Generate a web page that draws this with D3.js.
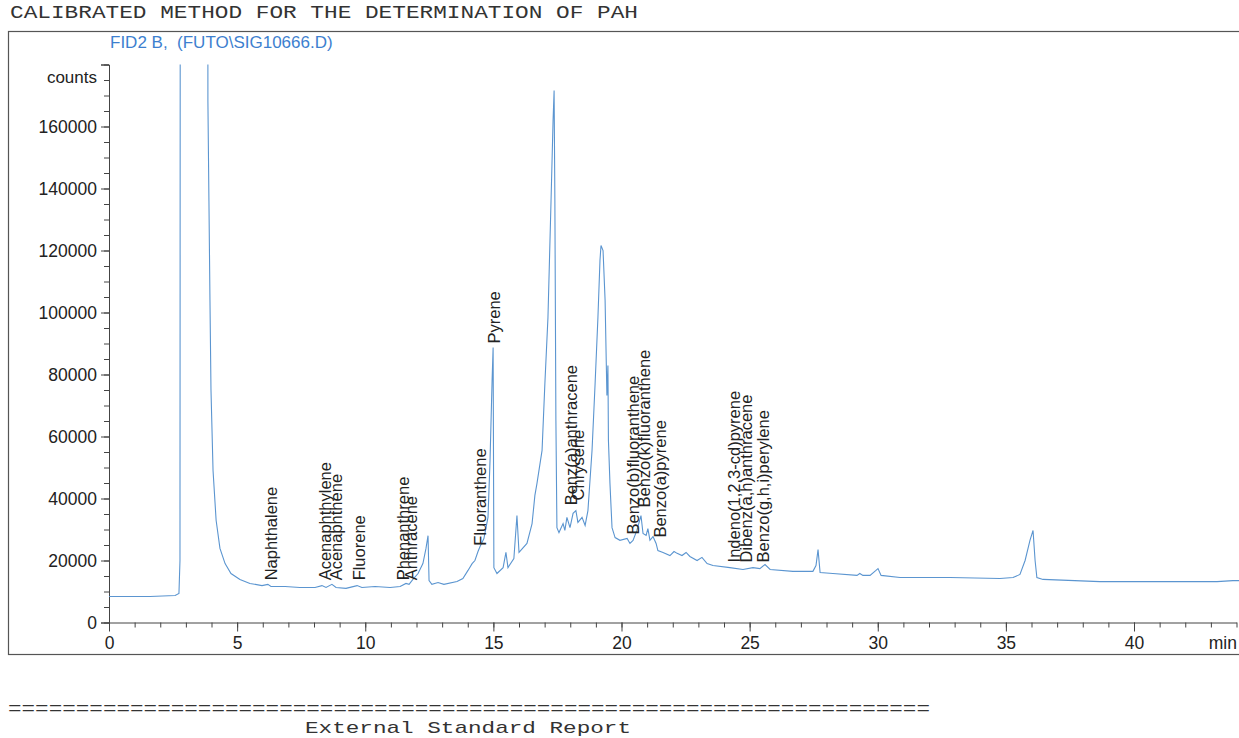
<!DOCTYPE html>
<html>
<head>
<meta charset="utf-8">
<script src="https://cdn.jsdelivr.net/npm/d3@7"></script>
<style>
  body { margin: 0; background: #fff; }
  svg { display: block; }
</style>
</head>
<body>
<div id="chart"></div>
<script>
// chromatogram trace (min, counts); off-scale parts set high and clipped
const times = [0, 1.6, 2.58, 2.73, 2.77, 2.79, 3.84, 3.86, 3.9, 3.94, 3.98, 4.06, 4.18, 4.33, 4.53, 4.76, 5.11, 5.5,
  5.97, 6.2, 6.32, 6.87, 7.45, 8.04, 8.31, 8.47, 8.7, 8.86, 9.25, 9.68, 9.87, 10.38, 10.97, 11.36, 11.59, 11.71,
  11.86, 12.06, 12.25, 12.37, 12.45, 12.49, 12.6, 12.84, 13.07, 13.58, 13.81, 14.01, 14.17, 14.28, 14.4, 14.48,
  14.63, 14.79, 14.87, 14.95, 14.99, 15.02, 15.14, 15.38, 15.49, 15.57, 15.8, 15.92, 16.0, 16.31, 16.51, 16.62,
  16.7, 16.9, 17.01, 17.13, 17.25, 17.33, 17.37, 17.4, 17.44, 17.48, 17.56, 17.72, 17.79, 17.87, 17.99, 18.11,
  18.22, 18.3, 18.46, 18.58, 18.69, 18.85, 18.97, 19.08, 19.16, 19.2, 19.28, 19.36, 19.43, 19.47, 19.49, 19.55,
  19.63, 19.75, 19.94, 20.22, 20.33, 20.45, 20.6, 20.76, 20.84, 20.96, 21.03, 21.11, 21.23, 21.35, 21.42, 21.62,
  21.89, 22.05, 22.17, 22.36, 22.52, 22.67, 22.95, 23.14, 23.34, 23.57, 24.23, 24.74, 25.13, 25.4, 25.6, 25.8,
  26.69, 27.47, 27.59, 27.67, 27.75, 28.25, 29.19, 29.3, 29.42, 29.7, 29.93, 30.01, 30.13, 30.87, 32.82, 34.77,
  35.28, 35.55, 35.75, 35.94, 36.06, 36.14, 36.21, 36.45, 38.67, 41.29, 43.24, 43.86, 44.14];
const counts = [8400, 8400, 8700, 9400, 20000, 400000, 400000, 168000, 136000, 104000, 75000, 49000, 33000, 23900,
  19000, 15800, 13900, 12600, 11900, 12300, 11600, 11600, 11300, 11300, 11900, 11300, 12300, 11300, 11000, 11900,
  11300, 11600, 11300, 11600, 12600, 12300, 13900, 15800, 19000, 23900, 28000, 13500, 12300, 12900, 12300, 13200,
  14200, 16800, 19000, 20000, 22900, 24500, 27100, 33900, 52300, 78100, 88700, 17700, 15800, 17700, 22600, 17700,
  20600, 34500, 22600, 25500, 31900, 41000, 44800, 55500, 77100, 98400, 136000, 162000, 171600, 136000, 65200,
  30600, 29000, 31900, 29700, 33900, 30600, 35200, 36100, 32300, 33900, 31300, 36100, 55500, 77100, 98400, 116800,
  121600, 120000, 103900, 73200, 82900, 58700, 44800, 30600, 27400, 26500, 27100, 25500, 26500, 29700, 34500,
  28700, 28100, 30300, 26500, 27700, 25500, 23200, 22600, 21600, 22900, 22300, 21600, 22600, 21300, 20000, 21000,
  19000, 18400, 17700, 17100, 17700, 17400, 18700, 17100, 16500, 16500, 18400, 23500, 16100, 15800, 15200, 15800,
  15200, 15200, 16800, 17400, 15200, 14500, 14500, 14200, 14500, 15500, 20000, 26500, 29700, 20000, 14500, 13900,
  13200, 13200, 13200, 13500, 13500];

// peak annotations
const peakNames = ["Naphthalene", "Acenaphthylene", "Acenaphthene", "Fluorene", "Phenanthrene", "Anthracene",
  "Fluoranthene", "Pyrene", "Benz(a)anthracene", "Chrysene", "Benzo(b)fluoranthene", "Benzo(k)fluoranthene",
  "Benzo(a)pyrene", "Indeno(1,2,3-cd)pyrene", "Dibenz(a,h)anthracene", "Benzo(g,h,i)perylene"];
const peakTimes = [6.33, 8.42, 8.85, 9.75, 11.5, 11.78, 14.47, 15.03, 18.04, 18.3, 20.45, 20.9, 21.5, 24.38, 24.85, 25.52];
const peakHeights = [12300, 12300, 12300, 12300, 12300, 12300, 23500, 88700, 36500, 38100, 27100, 35800, 26100, 18100, 18100, 18100];

const xMajorTicks = [0, 5, 10, 15, 20, 25, 30, 35, 40];
const yMajorTicks = [0, 20000, 40000, 60000, 80000, 100000, 120000, 140000, 160000];

const W = 1239, H = 738;
const sans = "'Liberation Sans', Arial, sans-serif";
const mono = "'Liberation Mono', 'Courier New', monospace";
const svg = d3.select("#chart").append("svg").attr("width", W).attr("height", H)
  .style("font-family", sans);

const x = d3.scaleLinear().domain([0, 44]).range([109, 1236.5]);
const y = d3.scaleLinear().domain([0, 180000]).range([622.5, 64.5]);

// header / frame
svg.append("text").attr("x", 10).attr("y", 18)
  .attr("font-family", mono).attr("font-size", 18)
  .attr("textLength", 628).attr("lengthAdjust", "spacingAndGlyphs").attr("fill", "#333")
  .text("CALIBRATED METHOD FOR THE DETERMINATION OF PAH");

svg.append("rect").attr("x", 8.5).attr("y", 31.5).attr("width", 1240).attr("height", 623)
  .attr("fill", "none").attr("stroke", "#555").attr("stroke-width", 1.2);

svg.append("text").attr("x", 110).attr("y", 48).attr("font-size", 17).attr("fill", "#3d7fcf")
  .style("white-space", "pre")
  .text("FID2 B,  (FUTO\\SIG10666.D)");

// y axis
svg.append("g").attr("transform", "translate(109,0)")
  .call(d3.axisLeft(y).tickValues(d3.range(0, 180001, 5000)).tickSize(5).tickFormat(""))
  .call(g => g.select(".domain").remove())
  .attr("color", "#444");
svg.append("g").attr("transform", "translate(109,0)")
  .call(d3.axisLeft(y).tickValues(yMajorTicks.concat([180000])).tickSize(8).tickPadding(4)
    .tickFormat(d => d === 180000 ? "" : d))
  .attr("font-size", 17.5).attr("font-family", sans)
  .attr("color", "#444")
  .call(g => g.selectAll("text").attr("fill", "#222"));
svg.append("text").attr("x", 97).attr("y", y(176000) + 6).attr("text-anchor", "end")
  .attr("font-size", 17).attr("fill", "#222").text("counts");

// x axis
svg.append("g").attr("transform", `translate(0,${y(0)})`)
  .call(d3.axisBottom(x).tickValues(d3.range(0, 45, 1)).tickSize(5).tickFormat(""))
  .call(g => g.select(".domain").remove())
  .attr("color", "#444");
svg.append("g").attr("transform", `translate(0,${y(0)})`)
  .call(d3.axisBottom(x).tickValues(xMajorTicks).tickSize(9).tickPadding(5).tickSizeOuter(0))
  .attr("font-size", 17.5).attr("font-family", sans)
  .attr("color", "#444")
  .call(g => g.selectAll("text").attr("fill", "#222"));
svg.append("text").attr("x", 1237).attr("y", y(0) + 26).attr("text-anchor", "end")
  .attr("font-size", 17.5).attr("fill", "#222").text("min");

// trace
svg.append("defs").append("clipPath").attr("id", "plot")
  .append("rect").attr("x", 109).attr("y", y(180000)).attr("width", 1130).attr("height", y(0) - y(180000));

const data = times.map((t, i) => [t, counts[i]]);
svg.append("path").datum(data)
  .attr("clip-path", "url(#plot)")
  .attr("fill", "none").attr("stroke", "#5b95d0").attr("stroke-width", 1.1)
  .attr("d", d3.line().x(d => x(d[0])).y(d => y(d[1])));

// peak labels
svg.append("g").selectAll("text").data(peakNames).join("text")
  .attr("transform", (d, i) => `translate(${x(peakTimes[i])},${y(peakHeights[i]) - 4}) rotate(-90)`)
  .attr("dy", "0.35em").attr("font-size", 16.5).attr("fill", "#222")
  .text(d => d);

// report footer
svg.append("text").attr("x", 8).attr("y", 714)
  .attr("font-family", mono).attr("font-size", 18)
  .attr("textLength", 922).attr("lengthAdjust", "spacingAndGlyphs").attr("fill", "#333")
  .text("=".repeat(68));
svg.append("text").attr("x", 305).attr("y", 733)
  .attr("font-family", mono).attr("font-size", 17)
  .attr("textLength", 326).attr("lengthAdjust", "spacingAndGlyphs").attr("fill", "#333")
  .text("External Standard Report");
</script>
</body>
</html>
